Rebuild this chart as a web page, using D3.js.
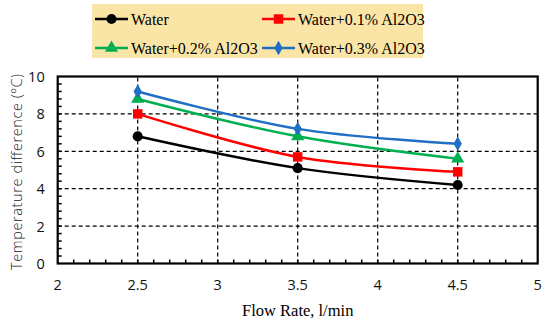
<!DOCTYPE html>
<html>
<head>
<meta charset="utf-8">
<script src="https://cdn.jsdelivr.net/npm/d3@7"></script>
<style>
  body { margin: 0; background: #fff; }
  svg { display: block; }
</style>
</head>
<body>
<script>
// chart data
const flowRates = [2.5, 3.5, 4.5];
const seriesNames = ["Water", "Water+0.1% Al2O3", "Water+0.2% Al2O3", "Water+0.3% Al2O3"];
const water = [6.8, 5.1, 4.2];
const water01 = [8.0, 5.7, 4.9];
const water02 = [8.8, 6.8, 5.6];
const water03 = [9.2, 7.2, 6.4];
const xTicks = [2, 2.5, 3, 3.5, 4, 4.5, 5];
const yTicks = [0, 2, 4, 6, 8, 10];

const colors = ["#000000", "#ff0000", "#00b050", "#1f6fc5"];
const symbols = [d3.symbolCircle, d3.symbolSquare, d3.symbolTriangle, d3.symbolDiamond];
const symSizes = [80, 90, 75, 60];

const w = 550, h = 325;
const margins = {top: 76.5, right: 12, bottom: 61.5, left: 57.7};

const svg = d3.select("body").append("svg")
    .attr("width", w)
    .attr("height", h);

const x = d3.scaleLinear().domain([2, 5]).range([margins.left, 537.7]);
const y = d3.scaleLinear().domain([0, 10]).range([263.5, margins.top]);

// grid lines
svg.append("g")
   .selectAll("line")
   .data(yTicks.slice(1, -1))
   .enter().append("line")
   .attr("x1", x(2)).attr("x2", x(5))
   .attr("y1", d => y(d)).attr("y2", d => y(d))
   .attr("stroke", "#000").attr("stroke-width", 1.2)
   .attr("stroke-dasharray", "4,3");

svg.append("g")
   .selectAll("line")
   .data(xTicks.slice(1, -1))
   .enter().append("line")
   .attr("y1", y(0)).attr("y2", y(10))
   .attr("x1", d => x(d)).attr("x2", d => x(d))
   .attr("stroke", "#000").attr("stroke-width", 1.2)
   .attr("stroke-dasharray", "4,3");

// minor ticks, inside
svg.append("g")
   .selectAll("line")
   .data(d3.range(21, 50).map(d => d / 10))
   .enter().append("line")
   .attr("x1", d => x(d)).attr("x2", d => x(d))
   .attr("y1", y(0)).attr("y2", y(0) - 4)
   .attr("stroke", "#000").attr("stroke-width", 1.5);

svg.append("g")
   .selectAll("line")
   .data(d3.range(1, 25).map(d => d * 0.4))
   .enter().append("line")
   .attr("y1", d => y(d)).attr("y2", d => y(d))
   .attr("x1", x(2)).attr("x2", x(2) + 4)
   .attr("stroke", "#000").attr("stroke-width", 1.5);

// plot border
svg.append("rect")
   .attr("x", x(2)).attr("y", y(10))
   .attr("width", x(5) - x(2)).attr("height", y(0) - y(10))
   .attr("fill", "none").attr("stroke", "#000").attr("stroke-width", 2.2);

// axes labels
svg.append("g")
   .selectAll("text")
   .data(xTicks)
   .enter().append("text")
   .attr("x", d => x(d)).attr("y", y(0) + 26)
   .attr("text-anchor", "middle")
   .style("font-family", "'Open Sans', sans-serif").style("font-size", "14.5px")
   .style("fill", "#111")
   .text(d => d);

svg.append("g")
   .selectAll("text")
   .data(yTicks)
   .enter().append("text")
   .attr("x", x(2) - 13).attr("y", d => y(d) + 5.5)
   .attr("text-anchor", "end")
   .style("font-family", "'Open Sans', sans-serif").style("font-size", "14.5px")
   .style("fill", "#111")
   .text(d => d);

svg.append("text")
   .attr("x", x(3.5)).attr("y", 316)
   .attr("text-anchor", "middle")
   .style("font-family", "'Liberation Serif', 'Times New Roman', serif").style("font-size", "16.5px")
   .text("Flow Rate, l/min");

svg.append("text")
   .attr("transform", "translate(22," + ((y(0) + y(10)) / 2 + 2) + ") rotate(-90)")
   .attr("text-anchor", "middle")
   .attr("textLength", 196)
   .style("font-family", "'Open Sans', sans-serif").style("font-size", "14.5px")
   .style("font-weight", "300")
   .style("fill", "#222")
   .text("Temperature difference (ºC)");

// series
const allSeries = [water, water01, water02, water03];
const line = d3.line()
    .x((d, i) => x(flowRates[i]))
    .y(d => y(d))
    .curve(d3.curveCatmullRom.alpha(0.5));

allSeries.forEach(function(values, k) {
    svg.append("path")
       .datum(values)
       .attr("d", line)
       .attr("fill", "none")
       .attr("stroke", colors[k])
       .attr("stroke-width", 2.5);

    svg.append("g")
       .selectAll("path")
       .data(values)
       .enter().append("path")
       .attr("transform", (d, i) => "translate(" + x(flowRates[i]) + "," + y(d) + ")")
       .attr("d", d3.symbol().type(symbols[k]).size(symSizes[k]))
       .attr("fill", colors[k]);
});

// legend
const legend = svg.append("g");
legend.append("rect")
   .attr("x", 92).attr("y", 4)
   .attr("width", 331).attr("height", 54)
   .attr("fill", "#fbe5a6");

const legendPos = [[95, 19], [262, 19], [95, 48], [262, 48]];
seriesNames.forEach(function(name, k) {
    let p = legendPos[k];
    legend.append("line")
       .attr("x1", p[0]).attr("x2", p[0] + 33)
       .attr("y1", p[1]).attr("y2", p[1])
       .attr("stroke", colors[k]).attr("stroke-width", 2.5);
    legend.append("path")
       .attr("transform", "translate(" + (p[0] + 16.5) + "," + p[1] + ")")
       .attr("d", d3.symbol().type(symbols[k]).size(symSizes[k]))
       .attr("fill", colors[k]);
    legend.append("text")
       .attr("x", p[0] + 36).attr("y", p[1] + 5.5)
       .style("font-family", "'Liberation Serif', 'Times New Roman', serif").style("font-size", "16px")
       .text(name);
});
</script>
</body>
</html>
